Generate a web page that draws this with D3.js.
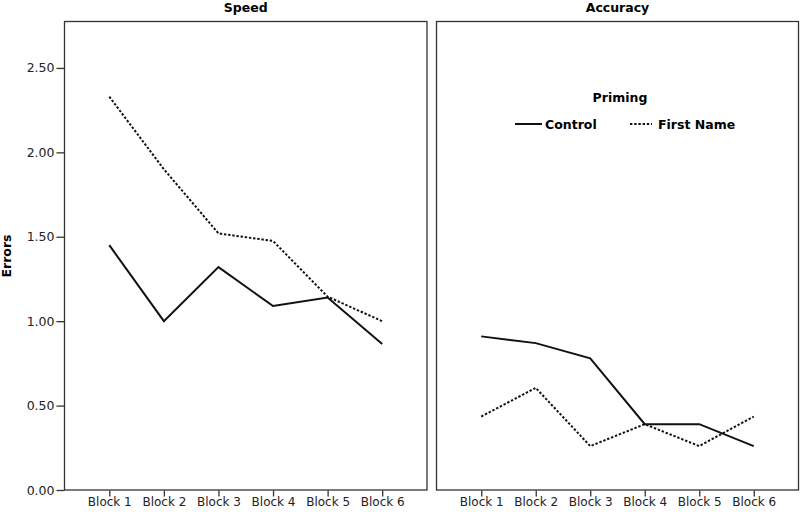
<!DOCTYPE html>
<html>
<head>
<meta charset="utf-8">
<script src="https://cdn.jsdelivr.net/npm/d3@7"></script>
<style>
  body { margin: 0; background: #fff; }
  svg { font-family: "DejaVu Sans", Verdana, sans-serif; }
  .panel-title, .legend-title, .legend-item, .y-title { font-weight: bold; }
</style>
</head>
<body>
<svg id="chart" width="800" height="512"></svg>
<script>
// data
var blocks = ['Block 1', 'Block 2', 'Block 3', 'Block 4', 'Block 5', 'Block 6']
var panels = ['Speed', 'Accuracy']
var speedControl = [1.45, 1.00, 1.32, 1.09, 1.14, 0.865]
var speedFirstName = [2.33, 1.90, 1.52, 1.475, 1.145, 1.00]
var accuracyControl = [0.91, 0.87, 0.78, 0.39, 0.39, 0.26]
var accuracyFirstName = [0.435, 0.605, 0.26, 0.39, 0.26, 0.435]
var yTicks = [0, 0.5, 1, 1.5, 2, 2.5]

var seriesByPanel = {
    Speed: [{ name: 'Control', values: speedControl }, { name: 'First Name', values: speedFirstName }],
    Accuracy: [{ name: 'Control', values: accuracyControl }, { name: 'First Name', values: accuracyFirstName }]
}
var dashFor = { 'Control': null, 'First Name': '2.4,1.8' }

const svg = d3.select('#chart')
var plotTop = 21, plotBottom = 490
var panelX = [[64, 427.5], [436, 799]]

const y = d3.scaleLinear().domain([0, 2.778]).range([plotBottom, plotTop])

panels.forEach((p, i) => {
    const x = d3.scalePoint().domain(blocks).range(panelX[i]).padding(0.83)
    const g = svg.append('g')

    // frame
    g.append('rect')
        .attr('x', panelX[i][0] + 0.5)
        .attr('y', plotTop + 0.5)
        .attr('width', panelX[i][1] - panelX[i][0] - 1)
        .attr('height', plotBottom - plotTop - 0.5)
        .attr('fill', 'none')
        .attr('stroke', '#333')
        .attr('stroke-width', 1.3)

    g.append('text')
        .attr('class', 'panel-title')
        .attr('x', (panelX[i][0] + panelX[i][1]) / 2)
        .attr('y', 12)
        .attr('text-anchor', 'middle')
        .attr('font-size', 12.5)
        .text(p)

    const xAxis = g.append('g')
        .attr('transform', 'translate(0,' + (plotBottom + 0.5) + ')')
        .call(d3.axisBottom(x).tickSizeOuter(0).tickSize(6).tickPadding(1))
    xAxis.select('.domain').remove()
    xAxis.selectAll('line').attr('stroke', '#333').attr('stroke-width', 1.3)
    xAxis.selectAll('text').attr('font-size', 12).attr('fill', '#222')
        .attr('font-family', '"DejaVu Sans", Verdana, sans-serif')

    if (i == 0) {
        const yAxis = g.append('g')
            .attr('transform', 'translate(' + (panelX[i][0] + 0.5) + ',0)')
            .call(d3.axisLeft(y).tickValues(yTicks).tickFormat(d3.format('.2f')).tickSize(8).tickPadding(2).tickSizeOuter(0))
        yAxis.select('.domain').remove()
        yAxis.selectAll('line').attr('stroke', '#333').attr('stroke-width', 1.3)
        yAxis.selectAll('text').attr('font-size', 12.5).attr('fill', '#222')
            .attr('font-family', '"DejaVu Sans", Verdana, sans-serif')
    }

    const line = d3.line()
        .x((d, j) => x(blocks[j]))
        .y(d => y(d))

    seriesByPanel[p].forEach(s => {
        g.append('path')
            .datum(s.values)
            .attr('d', line)
            .attr('fill', 'none')
            .attr('stroke', '#111')
            .attr('stroke-width', 2)
            .attr('stroke-dasharray', dashFor[s.name])
    })
})

svg.append('text')
    .attr('class', 'y-title')
    .attr('transform', 'translate(11,256) rotate(-90)')
    .attr('text-anchor', 'middle')
    .attr('font-size', 12.5)
    .text('Errors')

// legend
const legend = svg.append('g')
legend.append('text')
    .attr('class', 'legend-title')
    .attr('x', 620)
    .attr('y', 102)
    .attr('text-anchor', 'middle')
    .attr('font-size', 12.5)
    .text('Priming')

var legendX = [515, 630], legendLen = [27, 22], textX = [545, 658]
;['Control', 'First Name'].forEach((name, k) => {
    legend.append('line')
        .attr('x1', legendX[k]).attr('x2', legendX[k] + legendLen[k])
        .attr('y1', 124).attr('y2', 124)
        .attr('stroke', '#111')
        .attr('stroke-width', 2)
        .attr('stroke-dasharray', dashFor[name])
    legend.append('text')
        .attr('class', 'legend-item')
        .attr('x', textX[k])
        .attr('y', 128.5)
        .attr('font-size', 12.5)
        .text(name)
})
</script>
</body>
</html>
